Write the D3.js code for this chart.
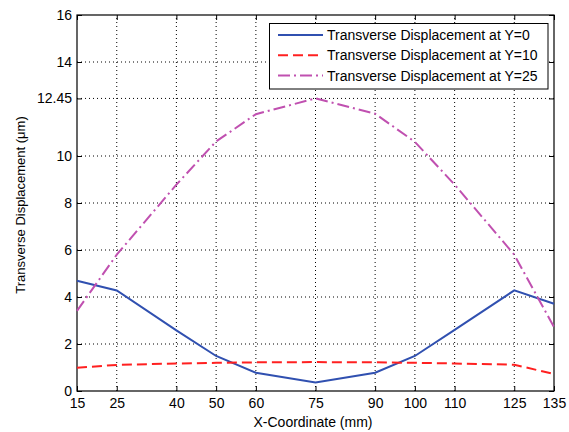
<!DOCTYPE html>
<html>
<head>
<meta charset="utf-8">
<script src="https://cdn.jsdelivr.net/npm/d3@7"></script>
<style>
  body { margin: 0; background: #fff; }
  text { font-family: "Liberation Sans", Arial, sans-serif; }
</style>
</head>
<body>
<div id="chart"></div>
<script>
// x positions (mm) and tick labels
var xCoords = [15, 25, 40, 50, 60, 75, 90, 100, 110, 125, 135];
var yTicks = [0, 2, 4, 6, 8, 10, 12.45, 14, 16];

// transverse displacement (um) for each line
var dispY0  = [4.69, 4.28, 2.58, 1.49, 0.78, 0.36, 0.78, 1.49, 2.6, 4.28, 3.71];
var dispY10 = [0.99, 1.11, 1.17, 1.2, 1.22, 1.23, 1.22, 1.2, 1.17, 1.12, 0.72];
var dispY25 = [3.41, 5.8, 8.78, 10.62, 11.78, 12.45, 11.8, 10.6, 8.78, 5.8, 2.72];

var seriesNames = ["Transverse Displacement at Y=0", "Transverse Displacement at Y=10", "Transverse Displacement at Y=25"];
var seriesColors = ["#3050b0", "#ff2020", "#c050b0"];
var seriesDash = ["none", "10,5", "12,4,2,4"];

var W = 569, H = 432;
var margin = {top: 15, right: 15, bottom: 41, left: 77};

var svg = d3.select("#chart").append("svg")
  .attr("width", W).attr("height", H);

var x = d3.scaleLinear().domain([15, 135]).range([margin.left, W - margin.right]);
var y = d3.scaleLinear().domain([0, 16]).range([H - margin.bottom, margin.top]);

var g = svg.append("g");

//grid lines
g.selectAll(".vgrid").data(xCoords.slice(1, -1)).join("line")
  .attr("x1", d => x(d)).attr("x2", d => x(d))
  .attr("y1", y(0)).attr("y2", y(16))
  .attr("stroke", "#000").attr("stroke-width", 1)
  .attr("stroke-dasharray", "1,3");
g.selectAll(".hgrid").data(yTicks.slice(1, -1)).join("line")
  .attr("x1", x(15)).attr("x2", x(135))
  .attr("y1", d => y(d)).attr("y2", d => y(d))
  .attr("stroke", "#000").attr("stroke-width", 1)
  .attr("stroke-dasharray", "1,3");

//axes with inward ticks
var xAxis = d3.axisBottom(x).tickValues(xCoords).tickSize(-5).tickPadding(7).tickFormat(d3.format("d"));
var yAxis = d3.axisLeft(y).tickValues(yTicks).tickSize(-5).tickPadding(5).tickFormat(d => String(d));

var gx = svg.append("g").attr("transform", "translate(0," + y(0) + ")").call(xAxis);
var gy = svg.append("g").attr("transform", "translate(" + x(15) + ",0)").call(yAxis);
var gxTop = svg.append("g").attr("transform", "translate(0," + y(16) + ")")
  .call(d3.axisTop(x).tickValues(xCoords).tickSize(-5).tickFormat(""));
var gyRight = svg.append("g").attr("transform", "translate(" + x(135) + ",0)")
  .call(d3.axisRight(y).tickValues(yTicks).tickSize(-5).tickFormat(""));

[gx, gy, gxTop, gyRight].forEach(function(a) {
  a.select(".domain").remove();
  a.selectAll("line").attr("stroke", "#000");
  a.selectAll("text").attr("font-size", "14px").attr("fill", "#000")
    .style("font-family", "'Liberation Sans', Arial, sans-serif");
});

//box
svg.append("rect")
  .attr("x", x(15)).attr("y", y(16))
  .attr("width", x(135) - x(15)).attr("height", y(0) - y(16))
  .attr("fill", "none").attr("stroke", "#000").attr("stroke-width", 1.2);

//lines
var allSeries = [dispY0, dispY10, dispY25];
var line = d3.line().x((d, i) => x(xCoords[i])).y(d => y(d));

svg.selectAll(".series").data(allSeries).join("path")
  .attr("d", d => line(d))
  .attr("fill", "none")
  .attr("stroke", (d, i) => seriesColors[i])
  .attr("stroke-width", 2)
  .attr("stroke-dasharray", (d, i) => seriesDash[i]);

//axis labels
svg.append("text")
  .attr("x", 313).attr("y", 427)
  .attr("text-anchor", "middle")
  .attr("font-size", "14px")
  .text("X-Coordinate (mm)");

svg.append("text")
  .attr("transform", "translate(25,205) rotate(-90)")
  .attr("text-anchor", "middle")
  .attr("font-size", "13px")
  .text("Transverse Displacement (\u03bcm)");

//legend
var legend = svg.append("g");
legend.append("rect")
  .attr("x", 269.5).attr("y", 23.5).attr("width", 278.5).attr("height", 65.5)
  .attr("fill", "#fff").attr("stroke", "#000").attr("stroke-width", 1);

var items = legend.selectAll(".item").data(seriesNames).join("g")
  .attr("transform", (d, i) => "translate(0," + (35 + i * 20.3) + ")");
items.append("line")
  .attr("x1", 278).attr("x2", 323)
  .attr("stroke", (d, i) => seriesColors[i])
  .attr("stroke-width", 2)
  .attr("stroke-dasharray", (d, i) => seriesDash[i]);
items.append("text")
  .attr("x", 327).attr("dy", "0.36em")
  .attr("font-size", "14px")
  .text(d => d);
</script>
</body>
</html>
